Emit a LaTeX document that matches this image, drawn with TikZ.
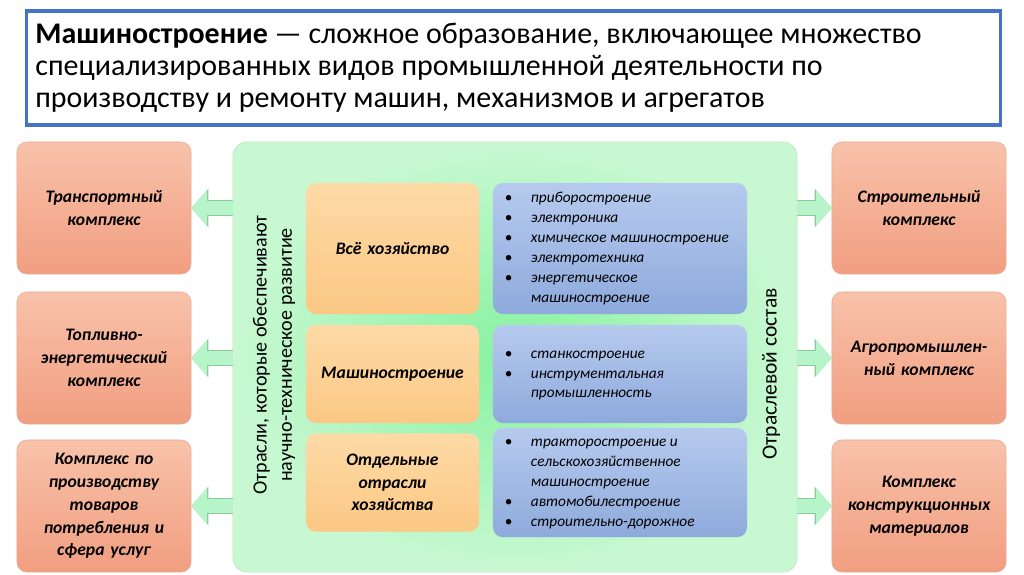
\documentclass[tikz,border=0pt]{standalone}
\usepackage{fontspec}
\setmainfont{Carlito}
\usetikzlibrary{arrows.meta}

\definecolor{titleblue}{RGB}{68,114,196}
\definecolor{salmontop}{RGB}{248,194,170}
\definecolor{salmonbot}{RGB}{241,158,128}
\definecolor{salmonline}{RGB}{232,170,150}
\definecolor{orangetop}{RGB}{253,218,166}
\definecolor{orangebot}{RGB}{251,200,132}
\definecolor{bluetop}{RGB}{182,202,238}
\definecolor{bluebot}{RGB}{142,170,220}
\definecolor{greenin}{RGB}{135,242,160}
\definecolor{greenout}{RGB}{200,248,210}
\definecolor{greenline}{RGB}{190,225,195}
\definecolor{arrowgreen}{RGB}{184,244,202}
\definecolor{arrowline}{RGB}{140,205,155}

\tikzset{
  sidebox/.style={rounded corners=7pt, draw=salmonline, top color=salmontop, bottom color=salmonbot,
    minimum width=4.35cm, minimum height=3.3cm, text width=4cm, align=center,
    font=\bfseries\itshape\fontsize{12.5}{16.2}\selectfont},
  kindbox/.style={rounded corners=7pt, top color=orangetop, bottom color=orangebot,
    minimum width=4.325cm, text width=4cm, align=center,
    font=\bfseries\itshape\fontsize{12.5}{16.2}\selectfont},
  listbox/.style={rounded corners=7pt, top color=bluetop, bottom color=bluebot,
    minimum width=6.35cm, inner xsep=0.3cm, text width=5.75cm, align=flush left,
    font=\itshape\fontsize{10.9}{14.2}\selectfont},
  flow/.style={arrowgreen, line width=10pt, -{Triangle[length=11pt, width=25pt]},
    preaction={draw=arrowline, line width=11pt, -{Triangle[length=12.2pt, width=27pt]}}},
  sidetext/.style={rotate=90, align=center, font=\fontsize{14.3}{18}\selectfont}
}
\newcommand{\itm}{\textup{\textbullet}&}

\begin{document}
\begin{tikzpicture}[x=0.025cm, y=-0.025cm]
\useasboundingbox (0,0) rectangle (1024,574);
\fill[white] (0,0) rectangle (1024,574);

\node[draw=titleblue, line width=2.2pt, minimum width=24.325cm, minimum height=2.85cm,
  inner xsep=0.2cm, text width=23.9cm, align=flush left,
  font=\fontsize{21.3}{22.7}\selectfont]
  (title) at (513.5,68)
  {\textbf{Машиностроение} — сложное образование, включающее множество\\
  специализированных видов промышленной деятельности по\\
  производству и ремонту машин, механизмов и агрегатов};

\node[rounded corners=10pt, draw=greenline, inner color=greenin, outer color=greenout,
  minimum width=14.1cm, minimum height=10.75cm] (core) at (515,357) {};

% left and right complexes
\node[sidebox] (l1) at (104,208) {Транспортный\\комплекс};
\node[sidebox] (l2) at (104,358) {Топливно-\\энергетический\\комплекс};
\node[sidebox] (l3) at (104,506) {Комплекс по\\производству\\товаров\\потребления и\\сфера услуг};
\node[sidebox] (r1) at (919,208) {Строительный\\комплекс};
\node[sidebox] (r2) at (919,358) {Агропромышлен-\\ный комплекс};
\node[sidebox] (r3) at (919,506) {Комплекс\\конструкционных\\материалов};

\foreach \n in {l1,l2,l3}
  \draw[flow] (core.west |- \n) -- (\n.east);
\foreach \n in {r1,r2,r3}
  \draw[flow] (core.east |- \n) -- (\n.west);

% inside the core
\node[kindbox, minimum height=3.275cm] (k1) at (392.5,248.5) {Всё хозяйство};
\node[kindbox, minimum height=2.45cm] (k2) at (392.5,374) {Машиностроение};
\node[kindbox, minimum height=2.45cm] (k3) at (392.5,482.5) {Отдельные\\отрасли\\хозяйства};

\node[listbox, minimum height=3.275cm] (b1) at (620,248.5) {%
  \begin{tabular}{@{}l@{\hspace{13pt}}l@{}}
  \itm приборостроение\\ \itm электроника\\ \itm химическое машиностроение\\
  \itm электротехника\\ \itm энергетическое\\ & машиностроение
  \end{tabular}};
\node[listbox, minimum height=2.45cm] (b2) at (620,374) {%
  \begin{tabular}{@{}l@{\hspace{13pt}}l@{}}
  \itm станкостроение\\ \itm инструментальная\\ & промышленность
  \end{tabular}};
\node[listbox, minimum height=2.45cm] (b3) at (620,482.5) {%
  \begin{tabular}{@{}l@{\hspace{13pt}}l@{}}
  \itm тракторостроение и\\ & сельскохозяйственное\\ & машиностроение\\
  \itm автомобилестроение\\ \itm строительно-дорожное
  \end{tabular}};

\node[sidetext] (left) at (274,355) {Отрасли, которые обеспечивают\\научно-техническое развитие};
\node[sidetext, font=\fontsize{15.3}{18}\selectfont] (right) at (771,374) {Отраслевой состав};
\end{tikzpicture}
\end{document}
